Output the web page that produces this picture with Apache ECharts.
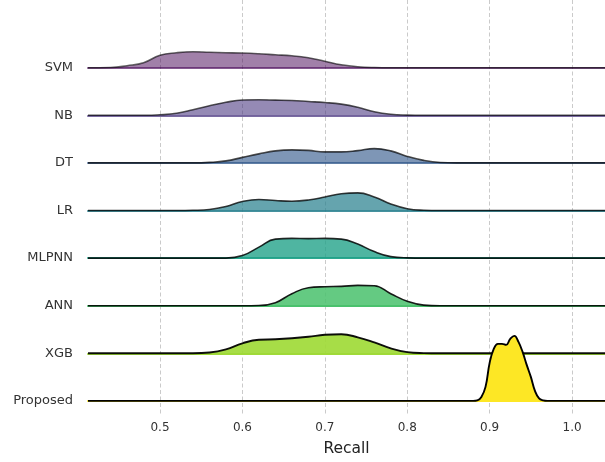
<!DOCTYPE html>
<html>
<head>
<meta charset="utf-8">
<script src="https://cdn.jsdelivr.net/npm/echarts@6/dist/echarts.min.js"></script>
<style>
  html, body { margin: 0; padding: 0; background: #fff; }
  #chart { width: 605px; height: 462px; }
</style>
</head>
<body>
<div id="chart"></div>
<script>
// ---- data ----
const categories = ['SVM', 'NB', 'DT', 'LR', 'MLPNN', 'ANN', 'XGB', 'Proposed'];
const xTickLabels = ['0.5', '0.6', '0.7', '0.8', '0.9', '1.0'];
const axisName = 'Recall';

// shared recall sample points for the broad distributions
const recallGrid = [0.4126, 0.44, 0.46, 0.48, 0.50, 0.52, 0.54, 0.56, 0.58, 0.60, 0.62, 0.64, 0.66,
                    0.68, 0.70, 0.72, 0.74, 0.76, 0.78, 0.80, 0.82, 0.84, 0.86, 0.88, 1.04];
const densitySVM   = [0, 0.2, 2, 5, 12.5, 15, 16, 15.5, 15, 14.7, 14, 13, 12, 10, 6.5, 3, 1, 0.2, 0, 0, 0, 0, 0, 0, 0];
const densityNB    = [0, 0, 0, 0, 0.5, 2, 5.5, 9.5, 13, 15.3, 15.5, 15.2, 14.8, 13.8, 12.8, 11.2, 8, 3.5, 1, 0.2, 0, 0, 0, 0, 0];
const densityDT    = [0, 0, 0, 0, 0, 0, 0, 0.5, 2, 5.5, 9, 12, 13, 12.5, 11, 11, 12.3, 14.3, 12, 6.5, 2.5, 0.4, 0, 0, 0];
const densityLR    = [0, 0, 0, 0, 0, 0, 0.2, 1, 4, 9, 11, 10, 9.3, 10.5, 13.5, 16.8, 17.6, 13.5, 6.5, 1.8, 0.3, 0, 0, 0, 0];
const densityMLPNN = [0, 0, 0, 0, 0, 0, 0, 0, 0, 2.5, 11, 19, 19.7, 19.5, 19.7, 19, 14, 6.5, 1.5, 0.2, 0, 0, 0, 0, 0];
const densityANN   = [0, 0, 0, 0, 0, 0, 0, 0, 0, 0, 0.2, 3, 12, 18, 19, 19.3, 20.3, 20, 12, 4.5, 0.6, 0, 0, 0, 0];
const densityXGB   = [0, 0, 0, 0, 0, 0, 0, 0.8, 4, 10, 13.5, 14, 15, 16.5, 18.5, 19, 16, 11, 5, 1.2, 0.2, 0, 0, 0, 0];

// the proposed model is narrow, sampled more finely
const recallProposed  = [0.4126, 0.87, 0.88, 0.885, 0.89, 0.895, 0.90, 0.905, 0.91, 0.915, 0.92, 0.925,
                         0.93, 0.935, 0.94, 0.945, 0.95, 0.955, 0.96, 0.965, 0.97, 0.98, 1.04];
const densityProposed = [0, 0, 0, 0.5, 4, 14, 38, 52, 57, 57, 56, 62, 65, 59, 49, 36, 24, 10, 2.5, 0.5, 0, 0, 0];

// ---- styling ----
const colors = ['#440154', '#46327e', '#365c8d', '#277f8e', '#1fa187', '#4ac16d', '#a0da39', '#fde725'];
function rgba(hex, a) {
  const r = parseInt(hex.slice(1, 3), 16), g = parseInt(hex.slice(3, 5), 16), b = parseInt(hex.slice(5, 7), 16);
  return 'rgba(' + r + ',' + g + ',' + b + ',' + a + ')';
}

const ridgeX = [recallGrid, recallGrid, recallGrid, recallGrid, recallGrid, recallGrid, recallGrid, recallProposed];
const ridgeY = [densitySVM, densityNB, densityDT, densityLR, densityMLPNN, densityANN, densityXGB, densityProposed];

const H = 462;
const LEFT = 88;
const firstBase = 67.7, step = 47.6, ridgeH = 68;
const xMin = 0.4126, xMax = 1.04;
const fontFam = 'DejaVu Sans';

const grids = [
  // background grid for ticks / dashed grid lines
  { left: LEFT - (xMin - 0.4) * 824, right: 0, top: 0, bottom: 46 },
  // label grid for category names
  { left: LEFT, right: 0, top: firstBase, bottom: H - (firstBase + 7 * step) }
];
const xAxes = [
  {
    gridIndex: 0, type: 'value', min: 0.4, max: xMax, interval: 0.1,
    axisLine: { show: false }, axisTick: { show: false },
    axisLabel: { showMinLabel: false, showMaxLabel: false, color: '#333', fontSize: 12, fontFamily: fontFam, margin: 6,
      formatter: v => { const i = Math.round((v - 0.5) * 10); return xTickLabels[i] !== undefined ? xTickLabels[i] : ''; } },
    splitLine: { show: true, showMinLine: false, showMaxLine: false, lineStyle: { color: '#c4c4c4', width: 0.9, type: [4, 2.5] } },
    name: axisName, nameLocation: 'middle', nameGap: 25,
    nameTextStyle: { color: '#222', fontSize: 15.5, fontFamily: fontFam, padding: [0, 0, 0, (xMin - 0.4) * 824] }
  },
  { gridIndex: 1, type: 'value', min: xMin, max: xMax, show: false }
];
const yAxes = [
  { gridIndex: 0, type: 'value', show: false },
  {
    gridIndex: 1, type: 'category', boundaryGap: false, data: categories.slice().reverse(),
    axisLine: { show: false }, axisTick: { show: false }, splitLine: { show: false },
    axisLabel: { color: '#333', fontSize: 13, fontFamily: fontFam, margin: 15, interval: 0 }
  }
];

const series = [];
categories.forEach((name, i) => {
  const base = firstBase + i * step;
  const gi = grids.length;
  grids.push({ left: LEFT, right: 0, top: base - ridgeH, height: ridgeH });
  const alpha = 0.5 + 0.5 * i / 7;
  xAxes.push({
    gridIndex: gi, type: 'value', min: xMin, max: xMax, offset: 1.4,
    axisLine: { show: true, lineStyle: { color: rgba(colors[i], Math.min(1, alpha + 0.15)), width: 2 } },
    axisTick: { show: false }, axisLabel: { show: false }, splitLine: { show: false }
  });
  yAxes.push({ gridIndex: gi, type: 'value', min: 0, max: ridgeH, show: false });
  const xs = ridgeX[i], ys = ridgeY[i];
  series.push({
    name: name, type: 'line', xAxisIndex: gi, yAxisIndex: gi,
    data: xs.map((x, k) => [x, ys[k]]),
    smooth: 0.45, symbol: 'none', clip: false,
    lineStyle: { color: 'rgba(0,0,0,' + (0.6 + 0.4 * i / 7).toFixed(2) + ')', width: i >= 6 ? 1.9 : 1.6 },
    areaStyle: { color: rgba(colors[i], alpha), opacity: 1 },
    z: 2 + i
  });
});

const chart = echarts.init(document.getElementById('chart'), null, { renderer: 'canvas' });
chart.setOption({
  animation: false,
  backgroundColor: '#fff',
  grid: grids, xAxis: xAxes, yAxis: yAxes, series: series
});
</script>
</body>
</html>
